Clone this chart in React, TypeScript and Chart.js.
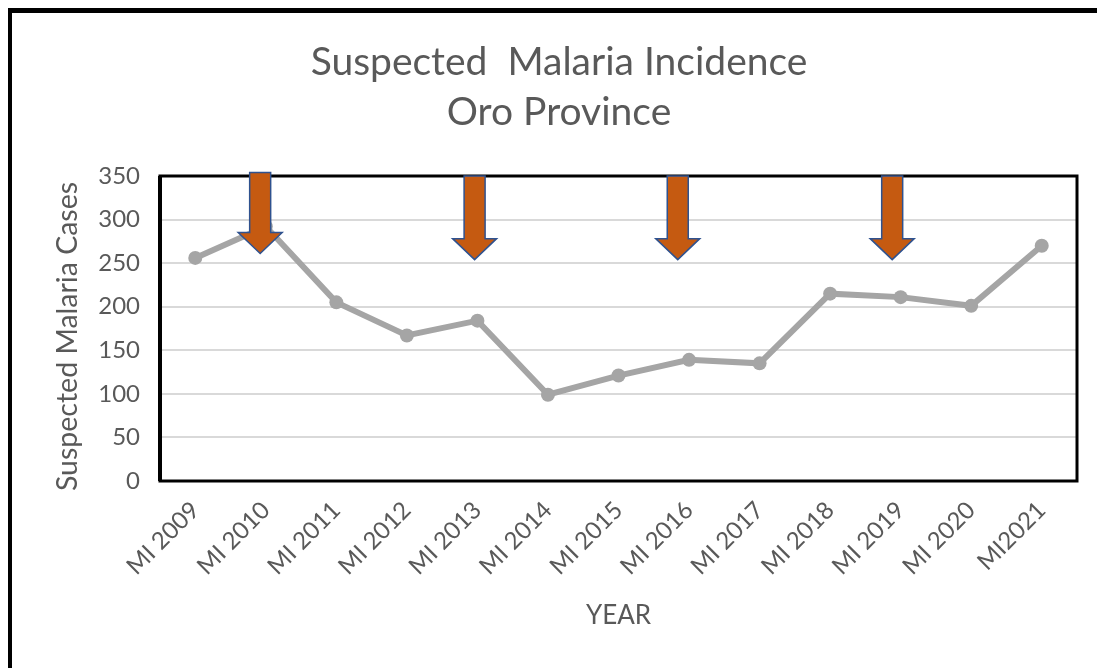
import React, { useEffect, useRef } from 'react';
import { Chart, registerables } from 'chart.js';

Chart.register(...registerables);

const categories = [
  'MI 2009', 'MI 2010', 'MI 2011', 'MI 2012', 'MI 2013', 'MI 2014', 'MI 2015',
  'MI 2016', 'MI 2017', 'MI 2018', 'MI 2019', 'MI 2020', 'MI2021',
];
const suspectedCases = [256, 292, 205, 167, 184, 99, 121, 139, 135, 215, 211, 201, 270];
const yTickValues = [0, 50, 100, 150, 200, 250, 300, 350];

const titleLines = ['Suspected  Malaria Incidence', 'Oro Province'];
const yAxisTitle = 'Suspected Malaria Cases';
const xAxisTitle = 'YEAR';

// Arrow annotations, located on the category axis (fractional category index)
const arrowPositions = [0.92, 3.96, 6.84, 9.88];
const arrowTopValues = [354, 350, 350, 350];
const arrowTipValues = [261, 254, 254, 254];

const TEXT = '#595959';
const FONT = 'Lato, "Open Sans", sans-serif';

const chartTitle = {
  id: 'chartTitle',
  afterDraw(chart: any) {
    const { ctx, chartArea: a } = chart;
    ctx.save();
    ctx.fillStyle = TEXT;
    ctx.font = `39px ${FONT}`;
    ctx.textAlign = 'center';
    ctx.textBaseline = 'middle';
    const cx = 551;
    titleLines.forEach((t, i) => ctx.fillText(t, cx, 54 + i * 50));
    // vertical axis title
    ctx.font = `28.5px ${FONT}`;
    ctx.translate(60, (a.top + a.bottom) / 2 + 8);
    ctx.rotate(-Math.PI / 2);
    ctx.fillText(yAxisTitle, 0, 0);
    ctx.restore();
  },
};

const frameAndArrows = {
  id: 'frameAndArrows',
  beforeDatasetsDraw(chart: any) {
    const { ctx, chartArea: a } = chart;
    ctx.save();
    ctx.strokeStyle = '#000';
    ctx.lineWidth = 3;
    ctx.strokeRect(a.left, a.top, a.right - a.left, a.bottom - a.top);
    ctx.beginPath();
    ctx.lineWidth = 4;
    ctx.moveTo(a.left, a.top);
    ctx.lineTo(a.left, a.bottom);
    ctx.stroke();
    ctx.restore();
  },
  afterDatasetsDraw(chart: any) {
    const { ctx } = chart;
    const xs = chart.scales.x;
    const ys = chart.scales.y;
    const shaftHalf = 10.5;
    const headHalf = 22;
    const headH = 21;
    ctx.save();
    arrowPositions.forEach((p, i) => {
      const cx = xs.getPixelForValue(p);
      const top = ys.getPixelForValue(arrowTopValues[i]);
      const tip = ys.getPixelForValue(arrowTipValues[i]);
      const base = tip - headH;
      ctx.beginPath();
      ctx.moveTo(cx - shaftHalf, top);
      ctx.lineTo(cx + shaftHalf, top);
      ctx.lineTo(cx + shaftHalf, base);
      ctx.lineTo(cx + headHalf, base);
      ctx.lineTo(cx, tip);
      ctx.lineTo(cx - headHalf, base);
      ctx.lineTo(cx - shaftHalf, base);
      ctx.closePath();
      ctx.fillStyle = '#C55A11';
      ctx.fill();
      ctx.lineWidth = 1.5;
      ctx.strokeStyle = '#2F528F';
      ctx.stroke();
    });
    ctx.restore();
  },
};

export default function App() {
  const ref = useRef<HTMLCanvasElement>(null);

  useEffect(() => {
    if (!ref.current) return;
    const chart = new Chart(ref.current, {
      type: 'line',
      data: {
        labels: categories,
        datasets: [
          {
            label: 'Suspected Malaria Cases',
            data: suspectedCases,
            borderColor: '#A5A5A5',
            backgroundColor: '#A5A5A5',
            borderWidth: 6,
            pointRadius: 7,
            pointHoverRadius: 7,
            pointBorderWidth: 0,
            pointBackgroundColor: '#A5A5A5',
            tension: 0,
          },
        ],
      },
      options: {
        responsive: false,
        animation: false,
        layout: { padding: { top: 168, right: 28, left: 0, bottom: 0 } },
        plugins: {
          legend: { display: false },
          tooltip: { enabled: false },
          title: { display: false },
        },
        scales: {
          x: {
            type: 'category',
            offset: true,
            grid: { display: false, drawTicks: false },
            border: { display: false },
            ticks: {
              color: TEXT,
              font: { family: FONT, size: 24 },
              minRotation: 45,
              maxRotation: 45,
              padding: 15,
              autoSkip: false,
            },
            title: {
              display: true,
              text: xAxisTitle,
              color: TEXT,
              font: { family: FONT, size: 26 },
              padding: { top: 0, bottom: 37 },
            },
            afterFit(scale: any) {
              scale.height = 187;
            },
          },
          y: {
            min: 0,
            max: 350,
            afterBuildTicks(scale: any) {
              scale.ticks = yTickValues.map((v) => ({ value: v }));
            },
            grid: { color: '#D9D9D9', lineWidth: 2, drawTicks: false },
            border: { display: false },
            ticks: {
              color: TEXT,
              font: { family: FONT, size: 24 },
              padding: 20,
            },
            title: { display: false },
            afterFit(scale: any) {
              scale.width = 152;
            },
          },
        },
      },
      plugins: [frameAndArrows, chartTitle],
    });
    return () => chart.destroy();
  }, []);

  return (
    <div style={{ position: 'relative', width: 1097, height: 660, background: '#fff' }}>
      <canvas ref={ref} width={1097} height={660} style={{ position: 'absolute', left: 0, top: 0 }} />
      <div
        style={{
          position: 'absolute',
          left: -1,
          top: 0,
          width: 1098,
          height: 660,
          borderLeft: '5px solid #000',
          borderTop: '5px solid #000',
          boxSizing: 'border-box',
          pointerEvents: 'none',
        }}
      />
    </div>
  );
}
